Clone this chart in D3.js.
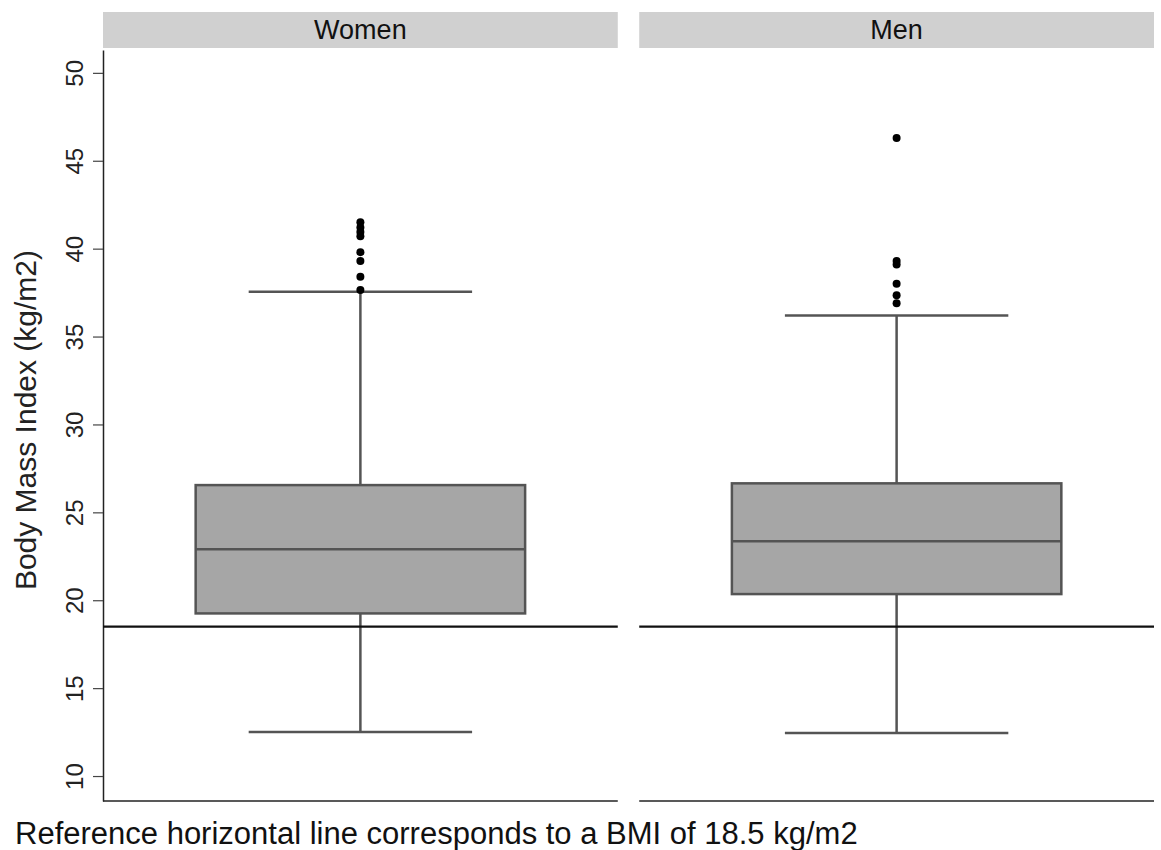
<!DOCTYPE html>
<html lang="en">
<head>
  <meta charset="utf-8">
  <title>BMI boxplot</title>
  <script src="https://d3js.org/d3.v7.min.js"></script>
  <style>
    body { margin: 0; background: #fff; }
    text { font-family: "Liberation Sans", Arial, sans-serif; }
  </style>
</head>
<body>
  <script type="text/javascript">
  var groups = ["Women", "Men"];
  var whiskerLow = [12.5, 12.45];
  var q1 = [19.25, 20.35];
  var median = [22.9, 23.35];
  var q3 = [26.55, 26.65];
  var whiskerHigh = [37.55, 36.2];
  var outliers = [
    [41.5, 41.2, 40.95, 40.7, 39.8, 39.3, 38.4, 37.65],
    [46.3, 39.3, 39.1, 38.0, 37.35, 36.9]
  ];
  var refLine = 18.5;
  var yTicks = [10, 15, 20, 25, 30, 35, 40, 45, 50];

  var w = 1161, h = 850;
  var margin = {top: 50, right: 7, bottom: 49, left: 103};

  var svg = d3.select('body').append('svg')
      .attr('width', w)
      .attr('height', h);

  var panel = d3.scaleBand()
    .domain(groups)
    .range([margin.left, w - margin.right])
    .paddingInner(0.04);

  var y = d3.scaleLinear()
    .domain([8.58, 51.3])
    .range([h - margin.bottom, margin.top]);

  // local x inside a panel, 0..1
  var px = d3.scaleLinear().domain([0, 1]);

  var boxColor = '#a6a6a6', lineColor = '#545454';

  // y axis
  var yAxis = d3.axisLeft(y).tickValues(yTicks).tickSize(10).tickSizeOuter(0);
  var ga = svg.append('g')
    .attr('transform', 'translate(' + margin.left + ',0)')
    .call(yAxis);
  ga.select('.domain').attr('stroke', '#222').attr('stroke-width', 1.5);
  ga.selectAll('.tick line').attr('stroke', '#444').attr('stroke-width', 1.2);
  ga.selectAll('.tick text')
    .attr('font-size', 24)
    .attr('fill', '#222')
    .attr('text-anchor', 'middle')
    .attr('transform', 'translate(-28,0) rotate(-90)')
    .attr('x', 0)
    .attr('dy', '0.35em');

  svg.append('text')
    .attr('transform', 'translate(36,' + (y(30.25)) + ') rotate(-90)')
    .attr('text-anchor', 'middle')
    .attr('font-size', 30)
    .attr('fill', '#222')
    .text('Body Mass Index (kg/m2)');

  groups.forEach(function(g, i) {
    var x0 = panel(g), bw = panel.bandwidth();
    px.range([x0, x0 + bw]);
    var p = svg.append('g');

    // strip
    p.append('rect')
      .attr('x', x0).attr('y', 12)
      .attr('width', bw).attr('height', 36)
      .attr('fill', '#d0d0d0');
    p.append('text')
      .attr('x', px(0.5)).attr('y', 30)
      .attr('dy', '0.35em')
      .attr('text-anchor', 'middle')
      .attr('font-size', 27)
      .attr('fill', '#111')
      .text(g);

    // bottom axis line
    p.append('line')
      .attr('x1', x0).attr('x2', x0 + bw)
      .attr('y1', y.range()[0]).attr('y2', y.range()[0])
      .attr('stroke', '#222').attr('stroke-width', 1.5);

    // whisker
    p.append('line')
      .attr('x1', px(0.5)).attr('x2', px(0.5))
      .attr('y1', y(whiskerLow[i])).attr('y2', y(whiskerHigh[i]))
      .attr('stroke', lineColor).attr('stroke-width', 2.5);
    [whiskerLow[i], whiskerHigh[i]].forEach(function(v) {
      p.append('line')
        .attr('x1', px(0.283)).attr('x2', px(0.717))
        .attr('y1', y(v)).attr('y2', y(v))
        .attr('stroke', lineColor).attr('stroke-width', 2.5);
    });

    // box
    p.append('rect')
      .attr('x', px(0.18)).attr('width', px(0.82) - px(0.18))
      .attr('y', y(q3[i])).attr('height', y(q1[i]) - y(q3[i]))
      .attr('fill', boxColor)
      .attr('stroke', lineColor).attr('stroke-width', 2.5);
    p.append('line')
      .attr('x1', px(0.18)).attr('x2', px(0.82))
      .attr('y1', y(median[i])).attr('y2', y(median[i]))
      .attr('stroke', lineColor).attr('stroke-width', 2.5);

    // reference line
    p.append('line')
      .attr('x1', x0).attr('x2', x0 + bw)
      .attr('y1', y(refLine)).attr('y2', y(refLine))
      .attr('stroke', '#111').attr('stroke-width', 2.2);

    // outliers
    p.selectAll('circle')
      .data(outliers[i])
      .enter().append('circle')
      .attr('cx', px(0.5))
      .attr('cy', function(d) { return y(d); })
      .attr('r', 4)
      .attr('fill', '#000');
  });

  svg.append('text')
    .attr('x', 15).attr('y', 844)
    .attr('font-size', 31)
    .attr('fill', '#111')
    .text('Reference horizontal line corresponds to a BMI of 18.5 kg/m2');
  </script>
</body>
</html>
